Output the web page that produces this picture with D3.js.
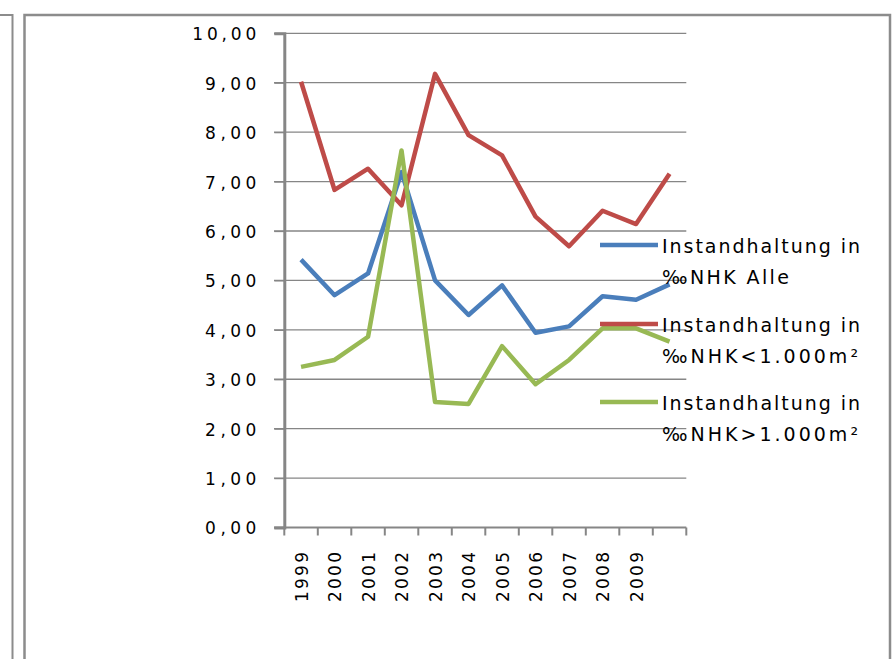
<!DOCTYPE html>
<html>
<head>
<meta charset="utf-8">
<script src="https://cdn.jsdelivr.net/npm/d3@7"></script>
<style>
  body { margin: 0; background: #fff; }
  svg { display: block; font-family: "DejaVu Sans", "Liberation Sans", sans-serif; }
</style>
</head>
<body>
<div id="chart"></div>
<script>
(function() {
    const width = 896;
    const height = 659;

    // categories (last slot has no label)
    const years = ["1999", "2000", "2001", "2002", "2003", "2004", "2005", "2006", "2007", "2008", "2009", ""];
    const alle = [5.42, 4.70, 5.14, 7.19, 5.00, 4.30, 4.90, 3.94, 4.07, 4.68, 4.61, 4.92];
    const klein = [9.02, 6.83, 7.26, 6.52, 9.18, 7.94, 7.53, 6.29, 5.69, 6.41, 6.14, 7.16];
    const gross = [3.25, 3.39, 3.86, 7.63, 2.54, 2.50, 3.67, 2.90, 3.39, 4.03, 4.03, 3.76];
    const yTicks = [0, 1, 2, 3, 4, 5, 6, 7, 8, 9, 10];
    const seriesNames = [
        ["Instandhaltung in", "\u2030NHK Alle"],
        ["Instandhaltung in", "\u2030NHK<1.000m\u00b2"],
        ["Instandhaltung in", "\u2030NHK>1.000m\u00b2"]
    ];
    const colors = ["#4A7EBB", "#BE4B48", "#98B954"];

    const series = [alle, klein, gross];

    const svg = d3.select("#chart")
        .append("svg")
        .attr("width", width)
        .attr("height", height);

    svg.append("rect").attr("width", width).attr("height", height).attr("fill", "#fff");

    // frames (neighbouring chart edge + chart border)
    svg.append("path")
        .attr("d", "M0,15 H12.5 V" + height)
        .attr("fill", "none")
        .attr("stroke", "#8c8c8c")
        .attr("stroke-width", 2);
    svg.append("path")
        .attr("d", "M24.5," + height + " V15 H890 V" + height)
        .attr("fill", "none")
        .attr("stroke", "#8c8c8c")
        .attr("stroke-width", 2.5);

    const x = d3.scaleBand()
        .domain(d3.range(years.length))
        .range([284.3, 686.3]);

    const y = d3.scaleLinear()
        .domain([0, 10])
        .range([527.5, 33.3]);

    const fmt = v => v.toFixed(2).replace(".", ",");

    // gridlines
    svg.append("g")
        .selectAll("line")
        .data(yTicks.filter(d => d > 0))
        .enter().append("line")
        .attr("x1", 274)
        .attr("x2", 686.3)
        .attr("y1", d => y(d))
        .attr("y2", d => y(d))
        .attr("stroke", "#868686")
        .attr("stroke-width", 1.3);

    // y axis
    const yAxis = svg.append("g")
        .attr("transform", "translate(284.3,0)")
        .call(d3.axisLeft(y).tickValues(yTicks).tickSize(10).tickPadding(18).tickFormat(fmt));
    yAxis.select(".domain").attr("stroke", "#868686").attr("stroke-width", 3);
    yAxis.selectAll(".tick line").attr("stroke", "#868686").attr("stroke-width", 1.3);
    yAxis.selectAll(".tick text")
        .attr("fill", "#000")
        .style("font-family", "'DejaVu Sans', sans-serif")
        .style("font-size", "17px")
        .attr("dy", "0.38em")
        .attr("textLength", d => fmt(d).length * 12.8)
        .attr("lengthAdjust", "spacing");

    // x axis
    svg.append("line")
        .attr("x1", 274).attr("x2", 686.3)
        .attr("y1", y(0)).attr("y2", y(0))
        .attr("stroke", "#868686").attr("stroke-width", 2);

    svg.append("g")
        .selectAll("line")
        .data(d3.range(years.length + 1))
        .enter().append("line")
        .attr("x1", d => d < years.length ? x(d) : x.range()[1])
        .attr("x2", d => d < years.length ? x(d) : x.range()[1])
        .attr("y1", y(0))
        .attr("y2", y(0) + 8)
        .attr("stroke", "#868686")
        .attr("stroke-width", 2);

    svg.append("g")
        .selectAll("text")
        .data(years)
        .enter().append("text")
        .attr("transform", (d, i) => "translate(" + (x(i) + x.bandwidth() / 2 + 0.5) + ",552) rotate(-90)")
        .attr("text-anchor", "end")
        .attr("dy", "0.36em")
        .style("font-size", "17px")
        .attr("textLength", d => d.length * 12.5)
        .attr("lengthAdjust", "spacing")
        .text(d => d);

    // lines
    const line = d3.line()
        .x((d, i) => x(i) + x.bandwidth() / 2)
        .y(d => y(d));

    svg.append("g")
        .selectAll("path")
        .data(series)
        .enter().append("path")
        .attr("d", line)
        .attr("fill", "none")
        .attr("stroke", (d, i) => colors[i])
        .attr("stroke-width", 4.5)
        .attr("stroke-linejoin", "round");

    // legend
    const legendY = [245, 324, 402];
    const lineWidths = [[198, 127], [198, 196], [198, 196]];
    const legend = svg.append("g")
        .selectAll("g")
        .data(seriesNames)
        .enter().append("g")
        .attr("transform", (d, i) => "translate(0," + legendY[i] + ")");

    legend.append("line")
        .attr("x1", 600).attr("x2", 658)
        .attr("y1", 0).attr("y2", 0)
        .attr("stroke", (d, i) => colors[i])
        .attr("stroke-width", 4.5);

    legend.each(function(d, i) {
        const g = d3.select(this);
        d.forEach((t, j) => {
            g.append("text")
                .attr("x", 662)
                .attr("y", j === 0 ? 8 : 39)
                .style("font-size", "19px")
                .attr("textLength", lineWidths[i][j])
                .attr("lengthAdjust", "spacing")
                .text(t);
        });
    });
})();
</script>
</body>
</html>
